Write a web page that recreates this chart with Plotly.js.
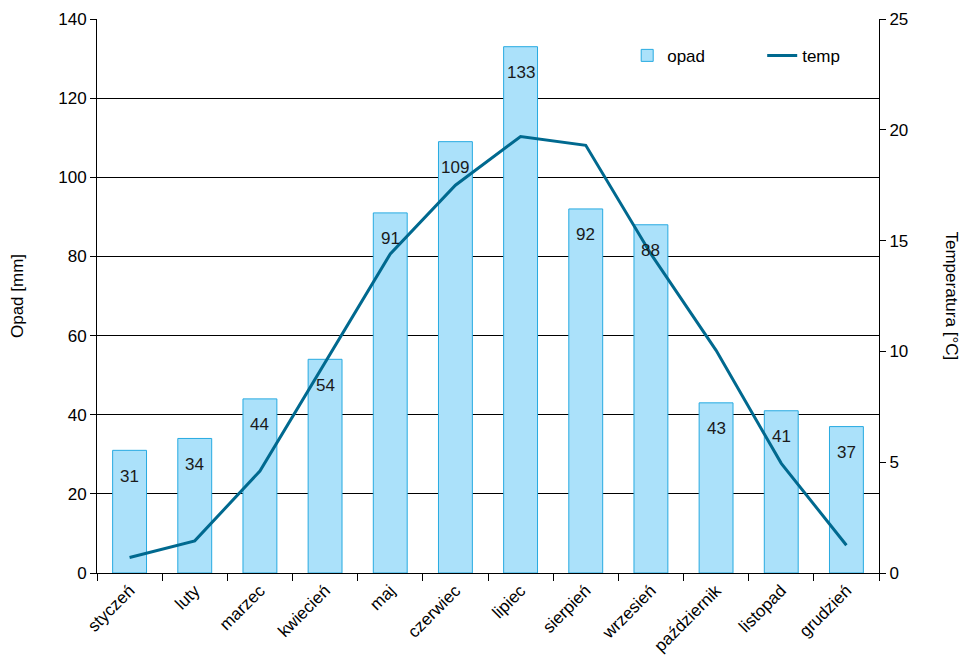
<!DOCTYPE html>
<html>
<head>
<meta charset="utf-8">
<script src="https://cdn.plot.ly/plotly-3.0.1.min.js"></script>
<style>html,body{margin:0;padding:0;background:#fff;}#chart{width:961px;height:661px;}</style>
</head>
<body>
<div id="chart"></div>
<script>
const months = ["styczeń","luty","marzec","kwiecień","maj","czerwiec","lipiec","sierpień","wrzesień","październik","listopad","grudzień"];
const opad = [31,34,44,54,91,109,133,92,88,43,41,37];
const temp = [0.7,1.45,4.6,9.5,14.4,17.5,19.7,19.3,14.4,10.05,4.95,1.25];

const font = "Liberation Sans, Arial, sans-serif";

const traces = [
  {
    type: "bar", name: "opad", x: months, y: opad, yaxis: "y",
    width: 0.52,
    marker: {color: "#abe1fa", line: {color: "#27aae1", width: 1}},
    hoverinfo: "skip"
  },
  {
    type: "scatter", mode: "lines", name: "temp", x: months, y: temp, yaxis: "y2",
    line: {color: "#00698f", width: 3},
    hoverinfo: "skip"
  }
];

const annotations = months.map((m, i) => ({
  x: m, y: opad[i], xref: "x", yref: "y", text: String(opad[i]),
  showarrow: false, yshift: -26, font: {family: font, size: 17, color: "#1a1a1a"}
}));
annotations.push({
  xref: "paper", yref: "paper", x: 1.0, xshift: 84, y: 0.5, text: "Temperatura [°C]",
  textangle: 90, showarrow: false, font: {family: font, size: 17, color: "#000"}
});

const layout = {
  width: 961, height: 661,
  margin: {l: 97, r: 82, t: 19, b: 88},
  paper_bgcolor: "#fff", plot_bgcolor: "#fff",
  font: {family: font, size: 17, color: "#000"},
  showlegend: true,
  legend: {orientation: "h", x: 0.678, y: 0.966, xanchor: "left", yanchor: "top",
           bgcolor: "rgba(0,0,0,0)", font: {family: font, size: 17}, entrywidth: 90},
  xaxis: {
    type: "category", tickson: "boundaries", ticks: "outside", ticklen: 7, tickcolor: "#000",
    showline: true, linecolor: "#000", linewidth: 1, showgrid: false,
    tickangle: -45, tickfont: {family: font, size: 17}
  },
  yaxis: {
    range: [0, 140], dtick: 20, ticks: "outside", ticklen: 6, tickcolor: "#000",
    showline: true, linecolor: "#000", linewidth: 1,
    showgrid: true, gridcolor: "#000", gridwidth: 1, zeroline: false,
    tickfont: {family: font, size: 17},
    title: {text: "Opad [mm]", font: {family: font, size: 17}, standoff: 30}
  },
  yaxis2: {
    overlaying: "y", side: "right", range: [0, 25], dtick: 5,
    ticks: "outside", ticklen: 6, tickcolor: "#000",
    showline: true, linecolor: "#000", linewidth: 1, showgrid: false, zeroline: false,
    tickfont: {family: font, size: 17}
  },
  annotations: annotations
};

Plotly.newPlot("chart", traces, layout, {staticPlot: true, displayModeBar: false});
</script>
</body>
</html>
